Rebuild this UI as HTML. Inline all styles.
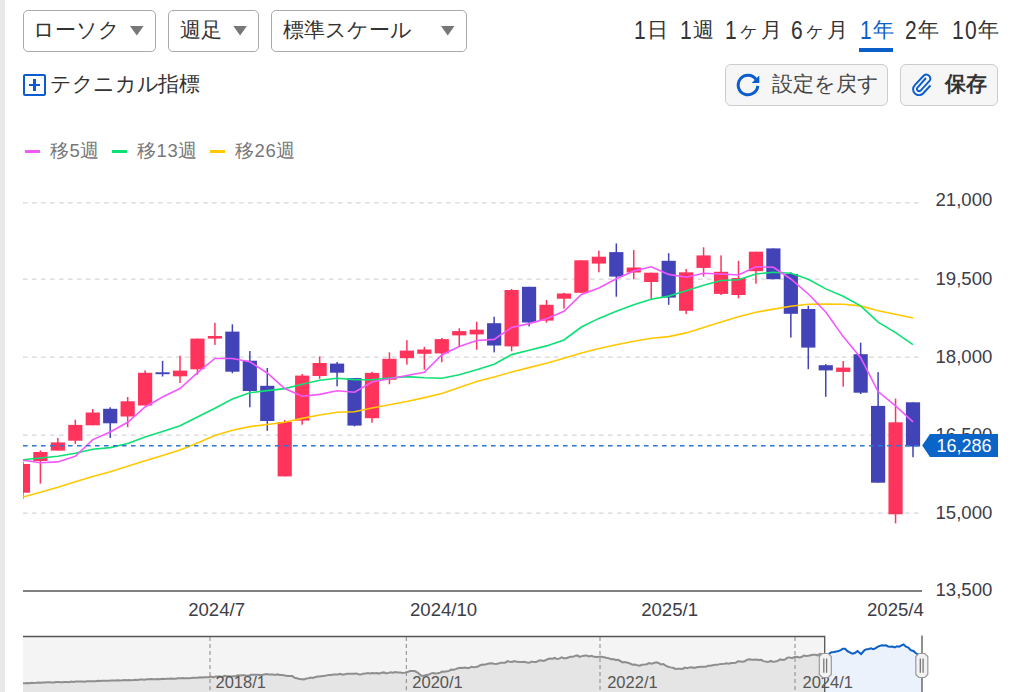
<!DOCTYPE html>
<html><head><meta charset="utf-8">
<style>
*{box-sizing:border-box}
html,body{margin:0;padding:0;background:#fff}
body{width:1015px;height:692px;overflow:hidden;position:relative;font-family:"Liberation Sans",sans-serif;color:#333}
.a{position:absolute;white-space:nowrap}
.dd{position:absolute;top:10px;height:42px;border:1px solid #aaa;border-radius:5px;background:#fff}
.dd span{position:absolute;left:11px;top:7.4px;font-size:21px;line-height:24px;color:#333}
.tri{position:absolute;top:15px;width:0;height:0;border-left:6.8px solid transparent;border-right:6.8px solid transparent;border-top:9.4px solid #777}
.tab{position:absolute;top:18px;font-size:21px;line-height:24px;color:#333;letter-spacing:1.2px}
.d{display:inline-block;transform:scaleY(1.22);transform-origin:50% 50%}
.btn{position:absolute;top:64px;height:42px;border:1px solid #ccc;border-radius:6px;background:#f6f6f6}
.lg{position:absolute;top:141px;font-size:18.5px;line-height:20px;color:#777;letter-spacing:0.6px}
.lgl{position:absolute;top:150px;width:15px;height:3px}
.ax{position:absolute;font-size:18.6px;line-height:20px;color:#3d3d48}
.nl{position:absolute;top:673.2px;font-size:16.5px;line-height:18px;color:#555}
</style></head><body>
<div class="a" style="left:0;top:0;width:5px;height:692px;background:#e8e8e8"></div>
<div class="dd" style="left:23px;width:133px"><span style="left:8.5px">ローソク</span></div>
<div class="dd" style="left:168px;width:91px"><span>週足</span></div>
<div class="dd" style="left:271px;width:196px"><span>標準スケール</span></div>
<svg class="a" style="left:0;top:0" width="500" height="60"><path d="M130,26 L143.6,26 L136.8,35.6 Z M233.3,26 L246.9,26 L240.1,35.6 Z M441,26 L454.5,26 L447.75,35.6 Z" fill="#777"/></svg>
<div class="tab" style="left:634px"><span class="d">1</span>日</div>
<div class="tab" style="left:680px"><span class="d">1</span>週</div>
<div class="tab" style="left:725px"><span class="d">1</span>ヶ月</div>
<div class="tab" style="left:791px"><span class="d">6</span>ヶ月</div>
<div class="tab" style="left:860px;color:#0b5fc8"><span class="d">1</span>年</div>
<div class="a" style="left:859px;top:48px;width:34px;height:4px;background:#0b5fc8"></div>
<div class="tab" style="left:905px"><span class="d">2</span>年</div>
<div class="tab" style="left:952px"><span class="d">10</span>年</div>
<div class="a" style="left:23.2px;top:73.8px;width:22.8px;height:22.4px;border:2.4px solid #0b5cd0;border-radius:2px"></div>
<div class="a" style="left:28.8px;top:84px;width:11.2px;height:2.2px;background:#0b5cd0"></div>
<div class="a" style="left:33.3px;top:79.3px;width:2.3px;height:11.5px;background:#0b5cd0"></div>
<div class="a" style="left:50.2px;top:71.6px;font-size:21px;line-height:24px;color:#333;letter-spacing:-0.4px">テクニカル指標</div>
<div class="btn" style="left:725px;width:163px"></div>
<div class="btn" style="left:900px;width:98px"></div>
<svg class="a" style="left:735.9px;top:73px" width="26" height="26" viewBox="0 0 26 26"><path d="M20.03,6.38 A9.8,9.8 0 1 0 21.76,12.85" fill="none" stroke="#0b5cd0" stroke-width="3"/><path d="M23.3,2.4 L23.3,9.9 L15.7,9.9 Z" fill="#0b5cd0"/></svg>
<div class="a" style="left:772px;top:72px;font-size:21px;line-height:24px;color:#444">設定を戻す</div>
<svg class="a" style="left:911px;top:72px" width="22" height="24" viewBox="0 0 22 24"><path d="M15,6 L6.5,15.5 A2.2,2.2 0 0 0 9.6,18.6 L18.5,9 A4,4 0 0 0 12.8,3.5 L3.8,13.2 A5.8,5.8 0 0 0 12,21.5 L19.5,13.5" fill="none" stroke="#0b5cd0" stroke-width="1.9"/></svg>
<div class="a" style="left:945px;top:72px;font-size:21px;line-height:24px;font-weight:bold;color:#333">保存</div>
<div class="lgl" style="left:25px;background:#f358fd"></div><div class="lg" style="left:50px">移5週</div>
<div class="lgl" style="left:112px;background:#0de074"></div><div class="lg" style="left:137px">移13週</div>
<div class="lgl" style="left:210px;background:#ffc800"></div><div class="lg" style="left:235px">移26週</div>
<svg width="1015" height="692" viewBox="0 0 1015 692" style="position:absolute;left:0;top:0">
<defs><clipPath id="pc"><rect x="23" y="190" width="899" height="400"/></clipPath></defs>
<line x1="23" y1="202.8" x2="921" y2="202.8" stroke="#d6d6d6" stroke-width="1.2" stroke-dasharray="4.6,4.4"/>
<line x1="23" y1="279.2" x2="921" y2="279.2" stroke="#d6d6d6" stroke-width="1.2" stroke-dasharray="4.6,4.4"/>
<line x1="23" y1="357.2" x2="921" y2="357.2" stroke="#d6d6d6" stroke-width="1.2" stroke-dasharray="4.6,4.4"/>
<line x1="23" y1="435.2" x2="921" y2="435.2" stroke="#d6d6d6" stroke-width="1.2" stroke-dasharray="4.6,4.4"/>
<line x1="23" y1="513.1" x2="921" y2="513.1" stroke="#d6d6d6" stroke-width="1.2" stroke-dasharray="4.6,4.4"/>
<line x1="23" y1="591" x2="922" y2="591" stroke="#555" stroke-width="1.3"/>
<g clip-path="url(#pc)">
<rect x="22.20" y="461.7" width="1.5" height="37.20" fill="#ff345d"/>
<rect x="15.85" y="464" width="14.2" height="28.70" fill="#ff345d"/>
<rect x="39.65" y="450.4" width="1.5" height="33.20" fill="#ff345d"/>
<rect x="33.30" y="452" width="14.2" height="9.00" fill="#ff345d"/>
<rect x="57.10" y="438" width="1.5" height="12.60" fill="#ff345d"/>
<rect x="50.75" y="442.4" width="14.2" height="8.20" fill="#ff345d"/>
<rect x="74.56" y="419.7" width="1.5" height="24.30" fill="#ff345d"/>
<rect x="68.21" y="424.9" width="14.2" height="15.80" fill="#ff345d"/>
<rect x="92.01" y="409" width="1.5" height="16.30" fill="#ff345d"/>
<rect x="85.66" y="412.5" width="14.2" height="12.80" fill="#ff345d"/>
<rect x="109.46" y="407.3" width="1.5" height="30.70" fill="#4343b8"/>
<rect x="103.11" y="408.8" width="14.2" height="14.50" fill="#4343b8"/>
<rect x="126.91" y="397" width="1.5" height="30.20" fill="#ff345d"/>
<rect x="120.56" y="401.3" width="14.2" height="15.20" fill="#ff345d"/>
<rect x="144.36" y="370.4" width="1.5" height="35.10" fill="#ff345d"/>
<rect x="138.01" y="372.8" width="14.2" height="32.70" fill="#ff345d"/>
<rect x="161.82" y="360.9" width="1.5" height="15.60" fill="#4343b8"/>
<rect x="155.47" y="372.3" width="14.2" height="1.90" fill="#4343b8"/>
<rect x="179.27" y="355.7" width="1.5" height="27.30" fill="#ff345d"/>
<rect x="172.92" y="370.6" width="14.2" height="5.70" fill="#ff345d"/>
<rect x="196.72" y="338.6" width="1.5" height="36.20" fill="#ff345d"/>
<rect x="190.37" y="338.6" width="14.2" height="30.70" fill="#ff345d"/>
<rect x="214.17" y="322.8" width="1.5" height="22.10" fill="#ff345d"/>
<rect x="207.82" y="336" width="14.2" height="2.60" fill="#ff345d"/>
<rect x="231.62" y="324.3" width="1.5" height="48.90" fill="#4343b8"/>
<rect x="225.27" y="331.6" width="14.2" height="40.10" fill="#4343b8"/>
<rect x="249.08" y="351" width="1.5" height="56.30" fill="#4343b8"/>
<rect x="242.73" y="360.7" width="14.2" height="30.30" fill="#4343b8"/>
<rect x="266.53" y="368" width="1.5" height="62.80" fill="#4343b8"/>
<rect x="260.18" y="385.8" width="14.2" height="35.20" fill="#4343b8"/>
<rect x="283.98" y="420" width="1.5" height="56.40" fill="#ff345d"/>
<rect x="277.63" y="422" width="14.2" height="54.40" fill="#ff345d"/>
<rect x="301.43" y="374" width="1.5" height="50.70" fill="#ff345d"/>
<rect x="295.08" y="375.6" width="14.2" height="45.00" fill="#ff345d"/>
<rect x="318.88" y="356.4" width="1.5" height="22.40" fill="#ff345d"/>
<rect x="312.53" y="363" width="14.2" height="13.00" fill="#ff345d"/>
<rect x="336.34" y="362" width="1.5" height="24.30" fill="#4343b8"/>
<rect x="329.99" y="363.6" width="14.2" height="9.10" fill="#4343b8"/>
<rect x="353.79" y="378.1" width="1.5" height="48.30" fill="#4343b8"/>
<rect x="347.44" y="378.1" width="14.2" height="47.50" fill="#4343b8"/>
<rect x="371.24" y="371.8" width="1.5" height="50.90" fill="#ff345d"/>
<rect x="364.89" y="372.9" width="14.2" height="45.30" fill="#ff345d"/>
<rect x="388.69" y="352.3" width="1.5" height="31.90" fill="#ff345d"/>
<rect x="382.34" y="358.8" width="14.2" height="21.00" fill="#ff345d"/>
<rect x="406.14" y="340.2" width="1.5" height="24.50" fill="#ff345d"/>
<rect x="399.79" y="350.6" width="14.2" height="7.60" fill="#ff345d"/>
<rect x="423.60" y="346.9" width="1.5" height="22.80" fill="#ff345d"/>
<rect x="417.25" y="349.5" width="14.2" height="4.30" fill="#ff345d"/>
<rect x="441.05" y="338" width="1.5" height="24.30" fill="#ff345d"/>
<rect x="434.70" y="339.1" width="14.2" height="14.30" fill="#ff345d"/>
<rect x="458.50" y="328.2" width="1.5" height="17.80" fill="#ff345d"/>
<rect x="452.15" y="331.1" width="14.2" height="4.30" fill="#ff345d"/>
<rect x="475.95" y="321.7" width="1.5" height="28.10" fill="#ff345d"/>
<rect x="469.60" y="329.7" width="14.2" height="4.70" fill="#ff345d"/>
<rect x="493.40" y="316.7" width="1.5" height="35.70" fill="#4343b8"/>
<rect x="487.05" y="323.2" width="14.2" height="22.30" fill="#4343b8"/>
<rect x="510.86" y="289" width="1.5" height="62.30" fill="#ff345d"/>
<rect x="504.51" y="290" width="14.2" height="56.40" fill="#ff345d"/>
<rect x="528.31" y="286.8" width="1.5" height="39.60" fill="#4343b8"/>
<rect x="521.96" y="286.8" width="14.2" height="35.70" fill="#4343b8"/>
<rect x="545.76" y="300" width="1.5" height="22.70" fill="#ff345d"/>
<rect x="539.41" y="304.8" width="14.2" height="15.80" fill="#ff345d"/>
<rect x="563.21" y="292.8" width="1.5" height="15.90" fill="#ff345d"/>
<rect x="556.86" y="293.5" width="14.2" height="5.20" fill="#ff345d"/>
<rect x="580.66" y="260.3" width="1.5" height="32.50" fill="#ff345d"/>
<rect x="574.31" y="260.3" width="14.2" height="32.50" fill="#ff345d"/>
<rect x="598.12" y="250.6" width="1.5" height="21.70" fill="#ff345d"/>
<rect x="591.77" y="256.7" width="14.2" height="6.90" fill="#ff345d"/>
<rect x="615.57" y="243.4" width="1.5" height="53.30" fill="#4343b8"/>
<rect x="609.22" y="252.1" width="14.2" height="24.50" fill="#4343b8"/>
<rect x="633.02" y="250.1" width="1.5" height="29.20" fill="#ff345d"/>
<rect x="626.67" y="267.5" width="14.2" height="5.00" fill="#ff345d"/>
<rect x="650.47" y="272.7" width="1.5" height="26.20" fill="#ff345d"/>
<rect x="644.12" y="272.7" width="14.2" height="9.30" fill="#ff345d"/>
<rect x="667.92" y="253.2" width="1.5" height="51.60" fill="#4343b8"/>
<rect x="661.57" y="260.8" width="14.2" height="36.80" fill="#4343b8"/>
<rect x="685.38" y="269" width="1.5" height="45.00" fill="#ff345d"/>
<rect x="679.03" y="272.3" width="14.2" height="38.50" fill="#ff345d"/>
<rect x="702.83" y="247.3" width="1.5" height="29.30" fill="#ff345d"/>
<rect x="696.48" y="255.4" width="14.2" height="12.50" fill="#ff345d"/>
<rect x="720.28" y="255.4" width="1.5" height="39.60" fill="#ff345d"/>
<rect x="713.93" y="271.8" width="14.2" height="22.10" fill="#ff345d"/>
<rect x="737.73" y="260.8" width="1.5" height="37.50" fill="#ff345d"/>
<rect x="731.38" y="278.1" width="14.2" height="16.90" fill="#ff345d"/>
<rect x="755.18" y="251.7" width="1.5" height="32.00" fill="#ff345d"/>
<rect x="748.83" y="251.7" width="14.2" height="19.50" fill="#ff345d"/>
<rect x="772.64" y="248.4" width="1.5" height="30.80" fill="#4343b8"/>
<rect x="766.29" y="248.4" width="14.2" height="30.80" fill="#4343b8"/>
<rect x="790.09" y="272.3" width="1.5" height="65.30" fill="#4343b8"/>
<rect x="783.74" y="274" width="14.2" height="39.80" fill="#4343b8"/>
<rect x="807.54" y="305.8" width="1.5" height="63.40" fill="#4343b8"/>
<rect x="801.19" y="309" width="14.2" height="38.60" fill="#4343b8"/>
<rect x="824.99" y="364.1" width="1.5" height="32.70" fill="#4343b8"/>
<rect x="818.64" y="365.2" width="14.2" height="5.20" fill="#4343b8"/>
<rect x="842.44" y="361" width="1.5" height="25.70" fill="#ff345d"/>
<rect x="836.09" y="367.6" width="14.2" height="4.30" fill="#ff345d"/>
<rect x="859.90" y="342.7" width="1.5" height="51.30" fill="#4343b8"/>
<rect x="853.55" y="354.2" width="14.2" height="38.50" fill="#4343b8"/>
<rect x="877.35" y="372.2" width="1.5" height="110.50" fill="#4343b8"/>
<rect x="871.00" y="405.9" width="14.2" height="76.80" fill="#4343b8"/>
<rect x="894.80" y="398.5" width="1.5" height="124.90" fill="#ff345d"/>
<rect x="888.45" y="422.3" width="14.2" height="92.00" fill="#ff345d"/>
<rect x="912.25" y="402.3" width="1.5" height="54.90" fill="#4343b8"/>
<rect x="905.90" y="402.3" width="14.2" height="44.20" fill="#4343b8"/>
<polyline points="22.95,497.00 40.40,492.20 57.85,487.30 75.31,481.80 92.76,476.40 110.21,471.70 127.66,466.20 145.11,460.80 162.57,455.40 180.02,450.00 197.47,443.00 214.92,435.40 232.37,430.20 249.83,426.60 267.28,424.50 284.73,422.30 302.18,418.40 319.63,415.00 337.09,412.30 354.54,411.70 371.99,408.00 389.44,404.80 406.89,401.50 424.35,397.60 441.80,393.50 459.25,387.50 476.70,381.60 494.15,377.00 511.61,372.00 529.06,367.60 546.51,363.30 563.96,358.30 581.41,352.90 598.87,348.50 616.32,344.80 633.77,341.20 651.22,338.30 668.67,336.60 686.13,332.90 703.58,327.50 721.03,322.10 738.48,316.70 755.93,312.30 773.39,309.10 790.84,306.30 808.29,304.30 825.74,304.00 843.19,304.30 860.65,305.90 878.10,310.70 895.55,314.30 913.00,318.00" fill="none" stroke="#ffc800" stroke-width="1.6"/>
<polyline points="22.95,459.70 40.40,458.00 57.85,456.30 75.31,453.20 92.76,449.30 110.21,447.60 127.66,443.50 145.11,437.00 162.57,431.50 180.02,425.80 197.47,417.00 214.92,408.30 232.37,399.00 249.83,392.70 267.28,390.60 284.73,388.60 302.18,384.20 319.63,380.30 337.09,378.30 354.54,379.60 371.99,379.80 389.44,378.10 406.89,376.60 424.35,377.70 441.80,378.20 459.25,374.70 476.70,369.80 494.15,364.30 511.61,354.60 529.06,350.30 546.51,345.90 563.96,340.00 581.41,327.00 598.87,318.40 616.32,311.30 633.77,304.80 651.22,299.30 668.67,296.10 686.13,290.70 703.58,285.30 721.03,280.50 738.48,279.80 755.93,274.00 773.39,272.30 790.84,273.20 808.29,279.30 825.74,288.90 843.19,296.20 860.65,305.90 878.10,322.10 895.55,332.60 913.00,344.70" fill="none" stroke="#0de074" stroke-width="1.6"/>
<polyline points="22.95,460.20 40.40,462.80 57.85,461.90 75.31,456.30 92.76,439.60 110.21,432.00 127.66,422.30 145.11,407.00 162.57,397.00 180.02,388.50 197.47,372.60 214.92,358.50 232.37,358.50 249.83,361.80 267.28,373.00 284.73,388.50 302.18,396.30 319.63,394.40 337.09,390.70 354.54,392.20 371.99,382.00 389.44,378.80 406.89,375.50 424.35,372.30 441.80,355.00 459.25,346.50 476.70,340.50 494.15,339.40 511.61,327.50 529.06,323.60 546.51,318.80 563.96,311.30 581.41,294.40 598.87,288.00 616.32,278.80 633.77,271.00 651.22,266.80 668.67,274.40 686.13,277.20 703.58,273.30 721.03,274.00 738.48,275.00 755.93,266.80 773.39,267.30 790.84,279.00 808.29,294.00 825.74,312.00 843.19,336.60 860.65,357.70 878.10,391.60 895.55,405.90 913.00,421.80" fill="none" stroke="#f358fd" stroke-width="1.6"/>
</g>
<line x1="23" y1="445.7" x2="921" y2="445.7" stroke="#2f76d2" stroke-width="1.5" stroke-dasharray="4.6,4.4"/>
<rect x="23" y="636" width="899" height="56" fill="#ffffff"/>
<rect x="23" y="636.5" width="801.7" height="56" fill="#f4f4f4"/>
<polygon points="23,692 23.00,683.30 25.20,683.14 27.40,682.98 29.60,683.18 31.80,682.81 34.00,682.99 36.20,682.83 38.40,682.60 40.60,682.78 42.80,682.46 45.00,682.61 47.20,682.34 49.40,682.29 51.60,682.40 53.80,682.56 56.00,682.11 58.20,682.10 60.40,682.25 62.60,682.36 64.80,682.09 67.00,681.93 69.20,682.18 71.40,681.61 73.60,681.98 75.80,681.61 78.00,681.47 80.20,681.39 82.40,681.42 84.60,681.63 86.80,681.22 89.00,681.37 91.20,681.34 93.40,681.13 95.60,681.16 97.80,680.83 100.00,681.00 102.22,680.69 104.44,680.69 106.67,680.87 108.89,680.66 111.11,680.52 113.33,680.59 115.56,680.45 117.78,680.29 120.00,680.48 122.22,680.35 124.45,680.03 126.67,680.13 128.89,680.03 131.11,680.15 133.34,679.99 135.56,679.68 137.78,679.98 140.00,679.43 142.23,679.52 144.45,679.63 146.67,679.23 148.89,679.33 151.12,679.01 153.34,679.28 155.56,679.26 157.78,679.08 160.01,679.16 162.23,678.79 164.45,678.92 166.67,678.79 168.90,678.70 171.12,678.56 173.34,678.69 175.56,678.67 177.79,678.34 180.01,678.37 182.23,677.97 184.45,678.24 186.68,678.13 188.90,678.25 191.12,678.08 193.34,677.71 195.57,677.69 197.79,677.77 200.01,677.34 202.23,677.51 204.46,677.27 206.68,677.17 208.90,677.30 211.12,676.62 213.34,677.38 215.56,676.45 217.79,676.47 220.01,676.52 222.23,677.00 224.45,675.87 226.67,676.21 228.89,676.21 231.11,676.50 233.34,676.29 235.56,676.22 237.78,675.35 240.00,675.50 242.21,675.33 244.41,675.19 246.62,675.79 248.82,675.82 251.03,674.74 253.24,674.70 255.44,674.71 257.65,674.65 259.85,674.90 262.06,674.97 264.26,674.49 266.47,674.10 268.68,674.56 270.88,674.43 273.09,674.61 275.29,675.04 277.50,674.40 280.00,674.96 282.50,675.06 285.00,675.51 287.50,675.90 290.00,676.00 292.36,676.10 294.72,677.82 297.08,678.33 299.44,679.11 301.80,679.30 304.06,679.37 306.32,678.55 308.59,678.25 310.85,677.58 313.11,677.94 315.38,676.91 317.64,676.61 319.90,676.48 322.16,676.12 324.43,676.04 326.69,675.37 328.95,675.00 331.21,674.88 333.48,674.51 335.74,674.53 338.00,674.40 340.29,673.74 342.57,674.74 344.86,674.35 347.14,673.70 349.43,673.77 351.71,673.82 354.00,673.78 356.29,673.41 358.57,674.26 360.86,674.38 363.14,673.65 365.43,673.61 367.71,673.04 370.00,673.50 372.31,672.91 374.62,673.13 376.92,672.95 379.23,673.58 381.54,672.65 383.85,672.39 386.15,673.48 388.46,672.86 390.77,672.29 393.08,672.71 395.38,671.97 397.69,672.52 400.00,672.40 402.47,673.04 404.93,672.62 407.40,672.10 409.87,671.10 412.33,671.08 414.80,671.10 418.00,672.85 421.20,675.80 423.56,675.81 425.91,674.90 428.27,674.87 430.62,673.58 432.98,672.91 435.33,673.49 437.69,673.33 440.04,672.61 442.40,671.50 444.63,671.69 446.85,671.36 449.08,670.86 451.31,669.58 453.53,669.74 455.76,669.09 457.98,668.15 460.21,667.79 462.44,667.88 464.66,667.49 466.89,667.91 469.12,668.03 471.34,666.75 473.57,667.28 475.79,667.01 478.02,666.59 480.25,665.17 482.47,664.55 484.70,664.70 486.98,663.92 489.27,663.58 491.55,663.31 493.84,663.78 496.12,664.00 498.41,663.61 500.69,662.67 502.98,662.70 505.26,662.68 507.55,661.11 509.83,661.86 512.12,662.02 514.40,661.00 516.92,661.83 519.44,662.09 521.96,661.92 524.48,661.70 527.00,662.60 529.32,662.77 531.64,661.61 533.95,662.11 536.27,662.07 538.59,660.69 540.91,660.35 543.23,660.99 545.55,660.24 547.86,658.90 550.18,658.47 552.50,658.80 554.76,657.95 557.02,659.08 559.28,658.67 561.54,657.26 563.80,658.25 566.06,658.30 568.32,657.50 570.58,656.72 572.84,656.85 575.10,655.87 577.36,655.43 579.62,656.93 581.88,656.12 584.14,655.67 586.40,655.40 588.96,656.44 591.52,655.80 594.08,656.85 596.64,657.03 599.20,656.70 601.54,656.66 603.89,657.21 606.23,657.76 608.58,658.14 610.92,659.24 613.27,659.13 615.61,659.90 617.96,659.86 620.30,661.00 622.73,662.34 625.16,661.94 627.59,662.72 630.01,663.55 632.44,664.73 634.87,664.46 637.30,665.20 639.66,665.71 642.01,664.71 644.37,664.52 646.72,664.26 649.08,663.11 651.43,663.63 653.79,662.92 656.14,662.35 658.50,663.00 660.91,664.40 663.33,664.12 665.74,665.52 668.16,666.83 670.57,667.39 672.99,667.83 675.40,669.00 677.76,668.84 680.11,668.72 682.47,668.95 684.82,667.54 687.18,668.16 689.53,667.41 691.89,667.28 694.24,667.98 696.60,667.30 698.91,667.00 701.22,666.79 703.53,666.84 705.84,666.81 708.15,665.65 710.45,665.65 712.76,665.15 715.07,664.85 717.38,664.87 719.69,664.12 722.00,663.90 724.28,663.64 726.57,663.21 728.85,663.73 731.14,662.97 733.42,662.96 735.71,662.76 737.99,661.21 740.28,661.42 742.56,661.79 744.85,661.28 747.13,659.69 749.42,659.34 751.70,659.70 754.06,659.83 756.41,659.40 758.77,659.93 761.12,659.86 763.48,661.17 765.83,661.61 768.19,662.05 770.54,660.94 772.90,661.80 775.31,661.57 777.73,660.86 780.14,659.31 782.56,660.03 784.97,659.57 787.39,657.61 789.80,657.50 792.13,658.10 794.45,656.89 796.78,656.84 799.11,657.53 801.43,657.03 803.76,655.61 806.09,655.88 808.41,655.82 810.74,655.29 813.07,654.82 815.39,654.83 817.72,655.34 820.05,653.86 822.37,654.61 824.70,654.30 824.7,692" fill="#e5e5e5"/>
<polygon points="824.7,692 824.70,654.30 826.95,653.90 829.20,653.70 831.57,652.23 833.93,652.03 836.30,651.60 838.50,651.07 840.70,650.17 842.90,648.73 845.10,648.70 847.47,651.14 849.83,652.49 852.20,653.70 854.85,653.10 857.50,651.00 861.10,654.00 864.60,650.10 866.74,649.13 868.88,649.04 871.02,648.34 873.16,649.19 875.30,648.40 877.90,646.60 879.90,645.88 881.90,645.31 883.90,645.43 885.90,645.20 888.12,646.43 890.35,646.86 892.57,646.54 894.80,647.50 897.00,646.19 899.20,646.67 901.40,645.36 903.60,644.50 905.97,646.69 908.33,647.58 910.70,650.10 913.35,650.99 916.00,653.30 918.00,654.50 922,654.5 922,692" fill="#ebf2fb"/>
<polyline points="23.00,683.30 25.20,683.14 27.40,682.98 29.60,683.18 31.80,682.81 34.00,682.99 36.20,682.83 38.40,682.60 40.60,682.78 42.80,682.46 45.00,682.61 47.20,682.34 49.40,682.29 51.60,682.40 53.80,682.56 56.00,682.11 58.20,682.10 60.40,682.25 62.60,682.36 64.80,682.09 67.00,681.93 69.20,682.18 71.40,681.61 73.60,681.98 75.80,681.61 78.00,681.47 80.20,681.39 82.40,681.42 84.60,681.63 86.80,681.22 89.00,681.37 91.20,681.34 93.40,681.13 95.60,681.16 97.80,680.83 100.00,681.00 102.22,680.69 104.44,680.69 106.67,680.87 108.89,680.66 111.11,680.52 113.33,680.59 115.56,680.45 117.78,680.29 120.00,680.48 122.22,680.35 124.45,680.03 126.67,680.13 128.89,680.03 131.11,680.15 133.34,679.99 135.56,679.68 137.78,679.98 140.00,679.43 142.23,679.52 144.45,679.63 146.67,679.23 148.89,679.33 151.12,679.01 153.34,679.28 155.56,679.26 157.78,679.08 160.01,679.16 162.23,678.79 164.45,678.92 166.67,678.79 168.90,678.70 171.12,678.56 173.34,678.69 175.56,678.67 177.79,678.34 180.01,678.37 182.23,677.97 184.45,678.24 186.68,678.13 188.90,678.25 191.12,678.08 193.34,677.71 195.57,677.69 197.79,677.77 200.01,677.34 202.23,677.51 204.46,677.27 206.68,677.17 208.90,677.30 211.12,676.62 213.34,677.38 215.56,676.45 217.79,676.47 220.01,676.52 222.23,677.00 224.45,675.87 226.67,676.21 228.89,676.21 231.11,676.50 233.34,676.29 235.56,676.22 237.78,675.35 240.00,675.50 242.21,675.33 244.41,675.19 246.62,675.79 248.82,675.82 251.03,674.74 253.24,674.70 255.44,674.71 257.65,674.65 259.85,674.90 262.06,674.97 264.26,674.49 266.47,674.10 268.68,674.56 270.88,674.43 273.09,674.61 275.29,675.04 277.50,674.40 280.00,674.96 282.50,675.06 285.00,675.51 287.50,675.90 290.00,676.00 292.36,676.10 294.72,677.82 297.08,678.33 299.44,679.11 301.80,679.30 304.06,679.37 306.32,678.55 308.59,678.25 310.85,677.58 313.11,677.94 315.38,676.91 317.64,676.61 319.90,676.48 322.16,676.12 324.43,676.04 326.69,675.37 328.95,675.00 331.21,674.88 333.48,674.51 335.74,674.53 338.00,674.40 340.29,673.74 342.57,674.74 344.86,674.35 347.14,673.70 349.43,673.77 351.71,673.82 354.00,673.78 356.29,673.41 358.57,674.26 360.86,674.38 363.14,673.65 365.43,673.61 367.71,673.04 370.00,673.50 372.31,672.91 374.62,673.13 376.92,672.95 379.23,673.58 381.54,672.65 383.85,672.39 386.15,673.48 388.46,672.86 390.77,672.29 393.08,672.71 395.38,671.97 397.69,672.52 400.00,672.40 402.47,673.04 404.93,672.62 407.40,672.10 409.87,671.10 412.33,671.08 414.80,671.10 418.00,672.85 421.20,675.80 423.56,675.81 425.91,674.90 428.27,674.87 430.62,673.58 432.98,672.91 435.33,673.49 437.69,673.33 440.04,672.61 442.40,671.50 444.63,671.69 446.85,671.36 449.08,670.86 451.31,669.58 453.53,669.74 455.76,669.09 457.98,668.15 460.21,667.79 462.44,667.88 464.66,667.49 466.89,667.91 469.12,668.03 471.34,666.75 473.57,667.28 475.79,667.01 478.02,666.59 480.25,665.17 482.47,664.55 484.70,664.70 486.98,663.92 489.27,663.58 491.55,663.31 493.84,663.78 496.12,664.00 498.41,663.61 500.69,662.67 502.98,662.70 505.26,662.68 507.55,661.11 509.83,661.86 512.12,662.02 514.40,661.00 516.92,661.83 519.44,662.09 521.96,661.92 524.48,661.70 527.00,662.60 529.32,662.77 531.64,661.61 533.95,662.11 536.27,662.07 538.59,660.69 540.91,660.35 543.23,660.99 545.55,660.24 547.86,658.90 550.18,658.47 552.50,658.80 554.76,657.95 557.02,659.08 559.28,658.67 561.54,657.26 563.80,658.25 566.06,658.30 568.32,657.50 570.58,656.72 572.84,656.85 575.10,655.87 577.36,655.43 579.62,656.93 581.88,656.12 584.14,655.67 586.40,655.40 588.96,656.44 591.52,655.80 594.08,656.85 596.64,657.03 599.20,656.70 601.54,656.66 603.89,657.21 606.23,657.76 608.58,658.14 610.92,659.24 613.27,659.13 615.61,659.90 617.96,659.86 620.30,661.00 622.73,662.34 625.16,661.94 627.59,662.72 630.01,663.55 632.44,664.73 634.87,664.46 637.30,665.20 639.66,665.71 642.01,664.71 644.37,664.52 646.72,664.26 649.08,663.11 651.43,663.63 653.79,662.92 656.14,662.35 658.50,663.00 660.91,664.40 663.33,664.12 665.74,665.52 668.16,666.83 670.57,667.39 672.99,667.83 675.40,669.00 677.76,668.84 680.11,668.72 682.47,668.95 684.82,667.54 687.18,668.16 689.53,667.41 691.89,667.28 694.24,667.98 696.60,667.30 698.91,667.00 701.22,666.79 703.53,666.84 705.84,666.81 708.15,665.65 710.45,665.65 712.76,665.15 715.07,664.85 717.38,664.87 719.69,664.12 722.00,663.90 724.28,663.64 726.57,663.21 728.85,663.73 731.14,662.97 733.42,662.96 735.71,662.76 737.99,661.21 740.28,661.42 742.56,661.79 744.85,661.28 747.13,659.69 749.42,659.34 751.70,659.70 754.06,659.83 756.41,659.40 758.77,659.93 761.12,659.86 763.48,661.17 765.83,661.61 768.19,662.05 770.54,660.94 772.90,661.80 775.31,661.57 777.73,660.86 780.14,659.31 782.56,660.03 784.97,659.57 787.39,657.61 789.80,657.50 792.13,658.10 794.45,656.89 796.78,656.84 799.11,657.53 801.43,657.03 803.76,655.61 806.09,655.88 808.41,655.82 810.74,655.29 813.07,654.82 815.39,654.83 817.72,655.34 820.05,653.86 822.37,654.61 824.70,654.30" fill="none" stroke="#8e8e8e" stroke-width="2"/>
<polyline points="824.70,654.30 826.95,653.90 829.20,653.70 831.57,652.23 833.93,652.03 836.30,651.60 838.50,651.07 840.70,650.17 842.90,648.73 845.10,648.70 847.47,651.14 849.83,652.49 852.20,653.70 854.85,653.10 857.50,651.00 861.10,654.00 864.60,650.10 866.74,649.13 868.88,649.04 871.02,648.34 873.16,649.19 875.30,648.40 877.90,646.60 879.90,645.88 881.90,645.31 883.90,645.43 885.90,645.20 888.12,646.43 890.35,646.86 892.57,646.54 894.80,647.50 897.00,646.19 899.20,646.67 901.40,645.36 903.60,644.50 905.97,646.69 908.33,647.58 910.70,650.10 913.35,650.99 916.00,653.30 918.00,654.50" fill="none" stroke="#0a5fc8" stroke-width="2"/>
<line x1="210" y1="637" x2="210" y2="692" stroke="#888" stroke-width="1" stroke-dasharray="4,3"/>
<line x1="406.3" y1="637" x2="406.3" y2="692" stroke="#888" stroke-width="1" stroke-dasharray="4,3"/>
<line x1="600" y1="637" x2="600" y2="692" stroke="#888" stroke-width="1" stroke-dasharray="4,3"/>
<line x1="795" y1="637" x2="795" y2="692" stroke="#888" stroke-width="1" stroke-dasharray="4,3"/>
</svg>
<div class="ax" style="left:935.5px;top:190px">21,000</div>
<div class="ax" style="left:935.5px;top:269px">19,500</div>
<div class="ax" style="left:935.5px;top:347px">18,000</div>
<div class="ax" style="left:935.5px;top:425px">16,500</div>
<div class="ax" style="left:935.5px;top:503px">15,000</div>
<div class="ax" style="left:935.5px;top:580px">13,500</div>
<svg class="a" style="left:0;top:0" width="1015" height="692"><path d="M922.2,445.4 L930,434.1 L998,434.1 L998,456.9 L930,456.9 Z" fill="#0b64c8"/></svg>
<div class="ax" style="left:936.5px;top:436px;color:#fff;font-size:18px">16,286</div>
<div class="ax" style="left:188.2px;top:600px">2024/7</div>
<div class="ax" style="left:410px;top:600px">2024/10</div>
<div class="ax" style="left:641.2px;top:600px">2025/1</div>
<div class="ax" style="left:867px;top:600px">2025/4</div>
<div class="nl" style="left:215.5px">2018/1</div>
<div class="nl" style="left:412.3px">2020/1</div>
<div class="nl" style="left:607.2px">2022/1</div>
<div class="nl" style="left:802.5px">2024/1</div>
<svg width="1015" height="692" viewBox="0 0 1015 692" style="position:absolute;left:0;top:0">
<path d="M23,636.5 L824.7,636.5 L824.7,692 M922,635.5 L922,692" fill="none" stroke="#555" stroke-width="1.3"/>
<path d="M822.3,653.5 L828.3,653.5 L831.3,656.5 L831.3,674.5 L828.3,677.5 L822.3,677.5 L819.3,674.5 L819.3,656.5 Z" fill="#f2f2f2" stroke="#999" stroke-width="1.2"/><line x1="823.8" y1="658.5" x2="823.8" y2="672.8" stroke="#777" stroke-width="1.3"/><line x1="826.5999999999999" y1="658.5" x2="826.5999999999999" y2="672.8" stroke="#777" stroke-width="1.3"/>
<path d="M918.8,653.5 L924.8,653.5 L927.8,656.5 L927.8,674.5 L924.8,677.5 L918.8,677.5 L915.8,674.5 L915.8,656.5 Z" fill="#f2f2f2" stroke="#999" stroke-width="1.2"/><line x1="920.3" y1="658.5" x2="920.3" y2="672.8" stroke="#777" stroke-width="1.3"/><line x1="923.0999999999999" y1="658.5" x2="923.0999999999999" y2="672.8" stroke="#777" stroke-width="1.3"/>
</svg>
</body></html>
